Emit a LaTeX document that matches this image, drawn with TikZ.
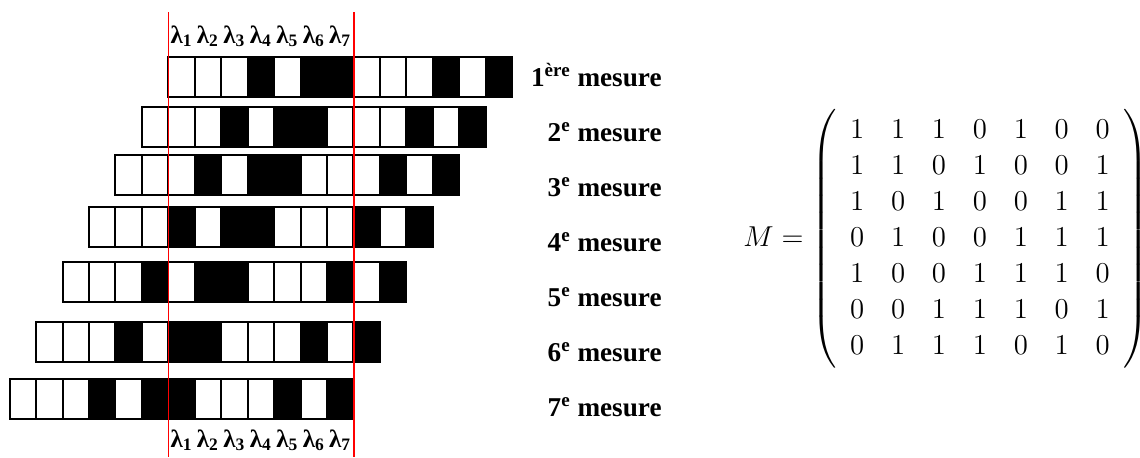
\RequirePackage{fix-cm}
\documentclass[tikz,border=0pt]{standalone}
\usepackage{fontspec}
\usepackage{amsmath}
\newfontfamily\timesfont{Liberation Serif}
\usetikzlibrary{positioning}
\tikzset{
  case/.style={draw=black,line width=1pt},
  rouge/.style={draw=red,line width=0.8pt},
  lam/.style={font=\timesfont\bfseries\fontsize{12.5}{14}\selectfont,inner sep=0pt},
  mes/.style={font=\timesfont\bfseries\fontsize{13.6}{17}\selectfont,inner sep=0pt}
}
\begin{document}
\begin{tikzpicture}[x=0.5pt,y=-0.5pt]
\useasboundingbox (0,0) rectangle (1140,457);
% les 7 mesures (sequence 1110100 decalee)
\foreach \r/\top in {1/57,2/107,3/155,4/207,5/262,6/322,7/379}{
  \foreach \c/\f in {0/white,1/white,2/white,3/black,4/white,5/black,6/black,
                     7/white,8/white,9/white,10/black,11/white,12/black}{
    \pgfmathsetmacro{\xa}{168.3+(\c-\r+1)*26.45}
    \draw[case,fill=\f] (\xa,\top) rectangle ++(26.45,39.5);
  }
}
% fenetre
\coordinate (g1) at (168.3,12);
\coordinate (g2) at (168.3,457);
\coordinate (d1) at (354,12);
\coordinate (d2) at (354,457);
\draw[rouge] (g1)--(g2);
\draw[rouge] (d1)--(d2);
\foreach \i in {1,...,7}{
  \node[lam,anchor=base] (lh\i) at ({168.3+(\i-0.5)*26.45},43) {λ\textsubscript{\i}};
  \node[lam,anchor=base] (lb\i) at ({168.3+(\i-0.5)*26.45},447) {λ\textsubscript{\i}};
}
% etiquettes
\node[mes,anchor=base east] (m1) at (662,86) {1\textsuperscript{ère} mesure};
\node[mes,anchor=base east] (m2) at (662,141) {2\textsuperscript{e} mesure};
\node[mes,anchor=base east] (m3) at (662,196) {3\textsuperscript{e} mesure};
\node[mes,anchor=base east] (m4) at (662,251) {4\textsuperscript{e} mesure};
\node[mes,anchor=base east] (m5) at (662,306) {5\textsuperscript{e} mesure};
\node[mes,anchor=base east] (m6) at (662,361) {6\textsuperscript{e} mesure};
\node[mes,anchor=base east] (m7) at (662,416) {7\textsuperscript{e} mesure};
% matrice
\node[anchor=base west,inner sep=0pt,font=\fontsize{14.4}{18}\selectfont] (mat) at (743,246)
  {\setlength{\arraycolsep}{6.7pt}$M=\left(\begin{array}{ccccccc}
   1&1&1&0&1&0&0\\
   1&1&0&1&0&0&1\\
   1&0&1&0&0&1&1\\
   0&1&0&0&1&1&1\\
   1&0&0&1&1&1&0\\
   0&0&1&1&1&0&1\\
   0&1&1&1&0&1&0
  \end{array}\right)$};
\end{tikzpicture}
\end{document}
